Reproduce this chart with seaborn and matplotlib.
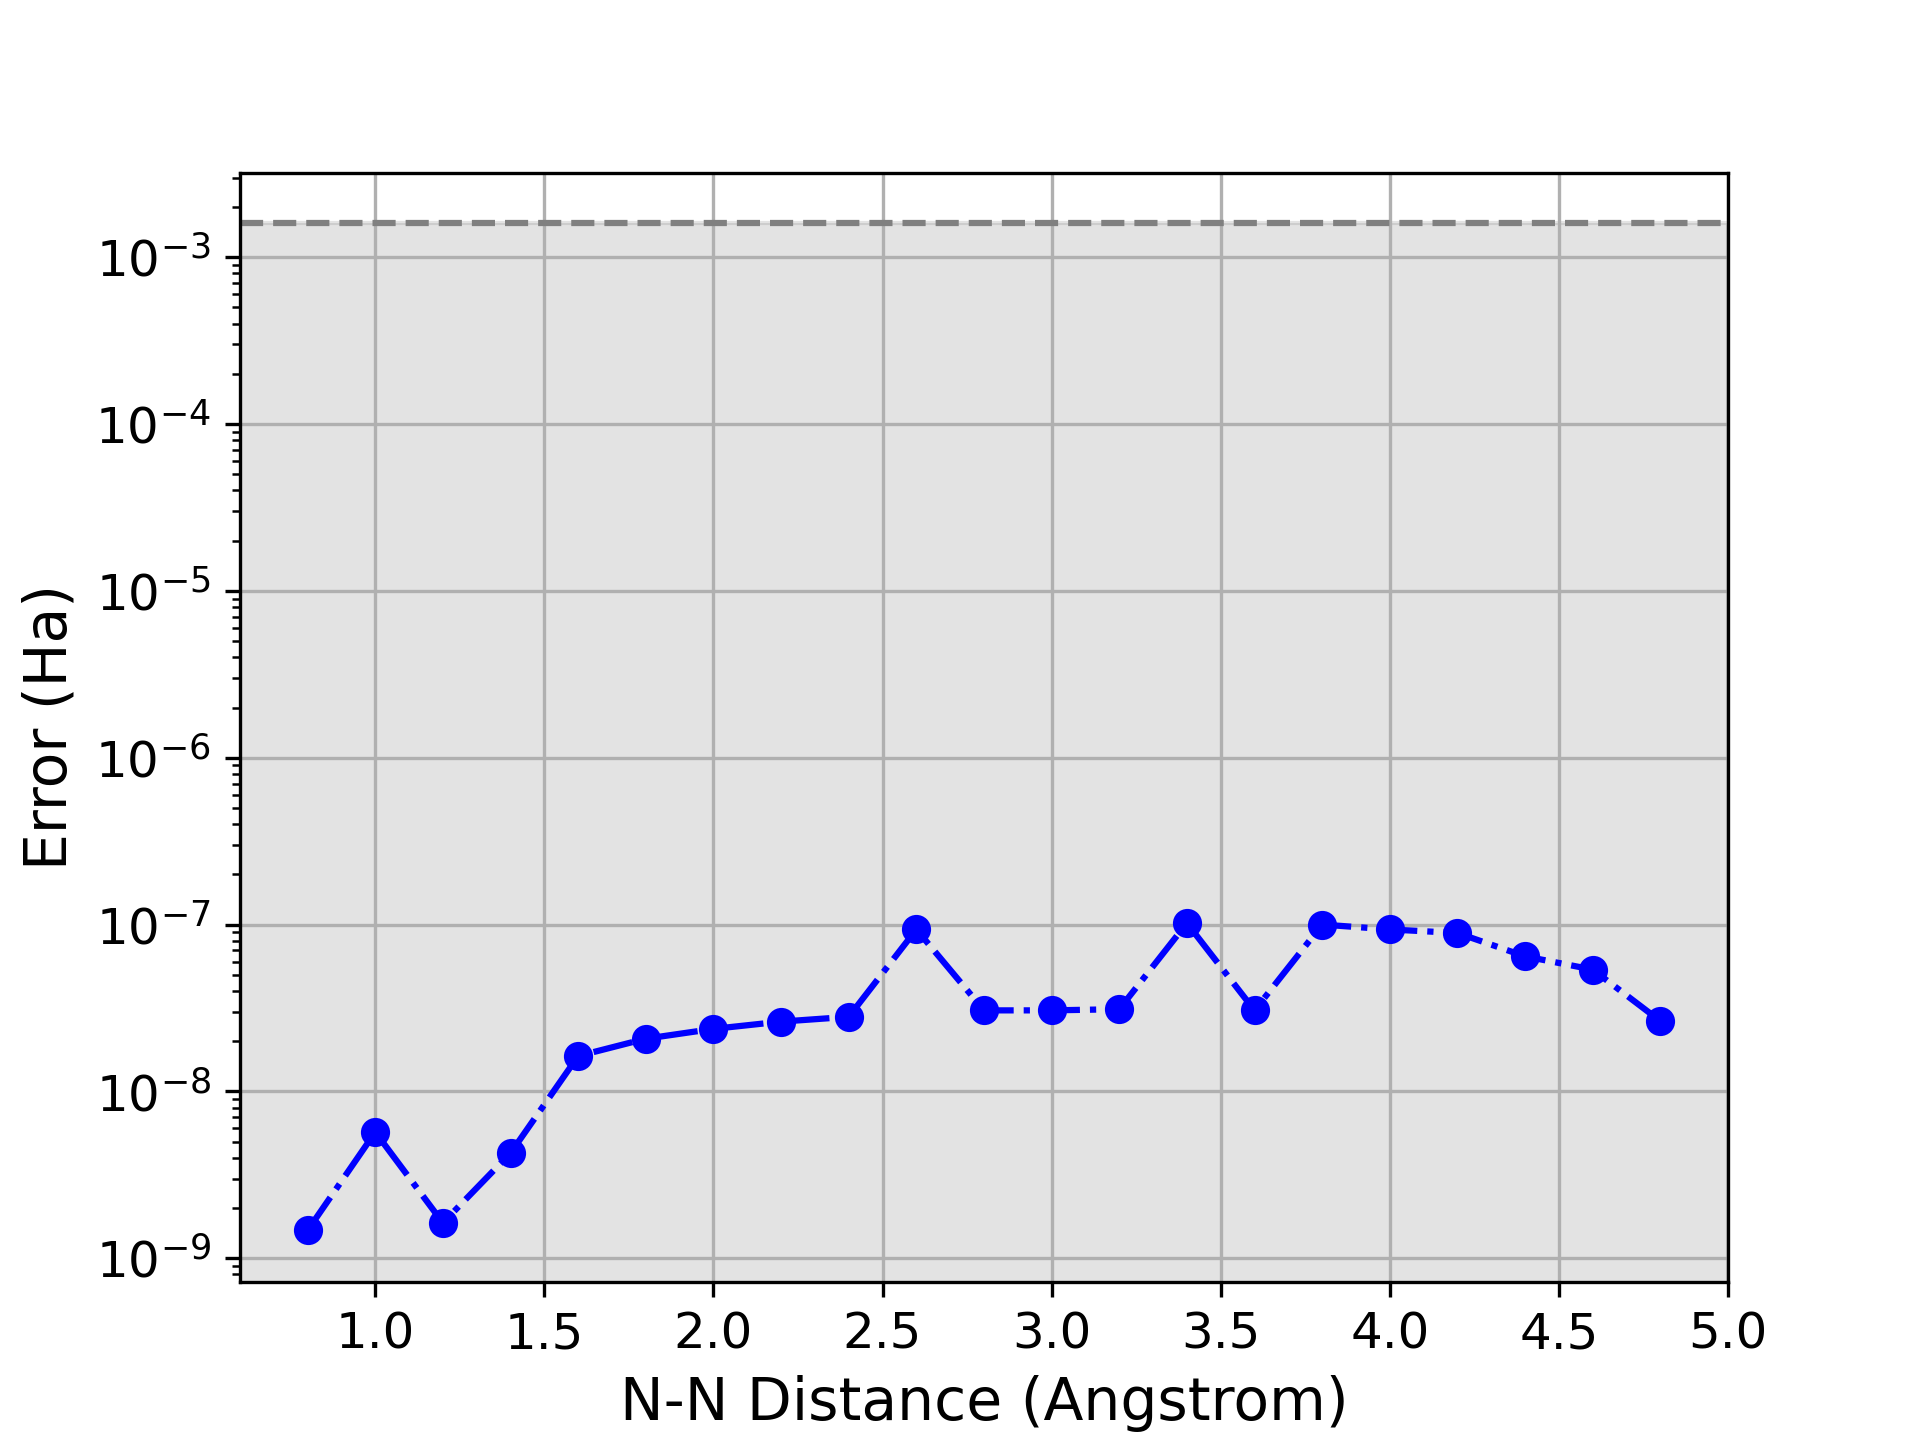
import numpy as np
import pandas as pd
import matplotlib
matplotlib.use('Agg')
import matplotlib.pyplot as plt
from matplotlib.ticker import MultipleLocator
import seaborn as sns

# ------------------------------------------------------------------ #
# Data
# ------------------------------------------------------------------ #
distance = [0.8, 1.0, 1.2, 1.4, 1.6, 1.8, 2.0, 2.2, 2.4, 2.6, 2.8,
            3.0, 3.2, 3.4, 3.6, 3.8, 4.0, 4.2, 4.4, 4.6, 4.8]
error = [1.47e-9, 5.7e-9, 1.63e-9, 4.27e-9, 1.63e-8, 2.07e-8, 2.37e-8,
         2.62e-8, 2.8e-8, 9.35e-8, 3.06e-8, 3.06e-8, 3.11e-8, 1.02e-7,
         3.06e-8, 1.0e-7, 9.35e-8, 8.9e-8, 6.45e-8, 5.37e-8, 2.64e-8]
chem_acc = 1.6e-3  # chemical accuracy threshold (Ha)

df = pd.DataFrame({'distance': distance, 'error': error})

# ------------------------------------------------------------------ #
# Plot
# ------------------------------------------------------------------ #
fig, ax = plt.subplots(figsize=(6.4, 4.8), dpi=300)

ax.axhspan(1e-12, chem_acc, color='gray', alpha=0.22)
ax.axhline(chem_acc, color='gray', linestyle='--', linewidth=1.5)

sns.lineplot(data=df, x='distance', y='error', ax=ax,
             color='blue', linestyle='-.', linewidth=1.5,
             marker='o', markersize=6, markeredgewidth=1.0,
             markeredgecolor='blue')

ax.set_yscale('log')
ax.set_xlim(0.6, 5.0)
ax.set_ylim(10 ** -9.14, 10 ** -2.494)
ax.xaxis.set_major_locator(MultipleLocator(0.5))
ax.grid(True)

ax.set_xlabel('N-N Distance (Angstrom)', fontsize=14)
ax.set_ylabel('Error (Ha)', fontsize=14)
ax.tick_params(axis='both', which='major', labelsize=12)

plt.savefig('out.png', dpi=300)
plt.close()
